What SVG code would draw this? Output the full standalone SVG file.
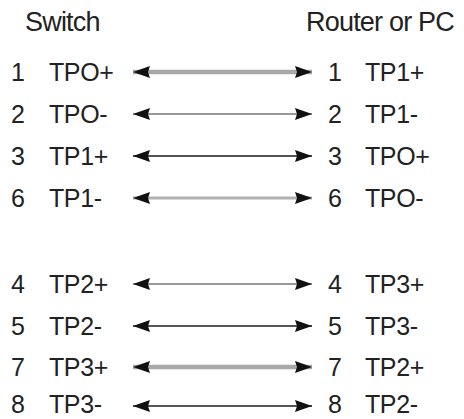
<svg xmlns="http://www.w3.org/2000/svg" width="464" height="419" viewBox="0 0 464 419">
<defs>
<style>
text{font-family:"Liberation Sans",Arial,sans-serif;fill:#222}
.h{font-size:27px;letter-spacing:-0.8px}
.t{font-size:25px;letter-spacing:-0.4px}
.thick{stroke:#a8a8a8;stroke-width:4.5}
.gray{stroke:#b0b0b0;stroke-width:3}
.thin{stroke:#333;stroke-width:1.2}
.mid{stroke:#555;stroke-width:2.2}
</style>
<marker id="ah" markerUnits="userSpaceOnUse" markerWidth="18" markerHeight="13" refX="17" refY="6.5" orient="auto-start-reverse" viewBox="0 0 18 13">
<path d="M0,0.5 L17,6.5 L0,12.5 L2,6.5 Z" fill="#111"/>
</marker>
</defs>
<g id="headers">
<text class="h" x="25" y="31">Switch</text>
<text class="h" x="306" y="31">Router or PC</text>
</g>
<g id="connectors">
<line class="thick" x1="133" y1="72" x2="312" y2="72" marker-start="url(#ah)" marker-end="url(#ah)"/>
<line class="thin" x1="133" y1="114" x2="312" y2="114" marker-start="url(#ah)" marker-end="url(#ah)"/>
<line class="mid" x1="133" y1="156" x2="312" y2="156" marker-start="url(#ah)" marker-end="url(#ah)"/>
<line class="gray" x1="133" y1="198" x2="312" y2="198" marker-start="url(#ah)" marker-end="url(#ah)"/>
<line class="thin" x1="133" y1="284" x2="312" y2="284" marker-start="url(#ah)" marker-end="url(#ah)"/>
<line class="mid" x1="133" y1="326" x2="312" y2="326" marker-start="url(#ah)" marker-end="url(#ah)"/>
<line class="thick" x1="133" y1="367" x2="312" y2="367" marker-start="url(#ah)" marker-end="url(#ah)"/>
<line class="mid" x1="133" y1="406" x2="312" y2="406" marker-start="url(#ah)" marker-end="url(#ah)"/>
</g>
<g id="switch">
<text class="t" x="11" y="81">1</text><text class="t" x="49" y="81">TPO+</text>
<text class="t" x="11" y="123">2</text><text class="t" x="49" y="123">TPO-</text>
<text class="t" x="11" y="165">3</text><text class="t" x="49" y="165">TP1+</text>
<text class="t" x="11" y="207">6</text><text class="t" x="49" y="207">TP1-</text>
<text class="t" x="11" y="293">4</text><text class="t" x="49" y="293">TP2+</text>
<text class="t" x="11" y="335">5</text><text class="t" x="49" y="335">TP2-</text>
<text class="t" x="11" y="376">7</text><text class="t" x="49" y="376">TP3+</text>
<text class="t" x="11" y="413">8</text><text class="t" x="49" y="413">TP3-</text>
</g>
<g id="router">
<text class="t" x="328" y="81">1</text><text class="t" x="365" y="81">TP1+</text>
<text class="t" x="328" y="123">2</text><text class="t" x="365" y="123">TP1-</text>
<text class="t" x="328" y="165">3</text><text class="t" x="365" y="165">TPO+</text>
<text class="t" x="328" y="207">6</text><text class="t" x="365" y="207">TPO-</text>
<text class="t" x="328" y="293">4</text><text class="t" x="365" y="293">TP3+</text>
<text class="t" x="328" y="335">5</text><text class="t" x="365" y="335">TP3-</text>
<text class="t" x="328" y="376">7</text><text class="t" x="365" y="376">TP2+</text>
<text class="t" x="328" y="413">8</text><text class="t" x="365" y="413">TP2-</text>
</g>
</svg>
